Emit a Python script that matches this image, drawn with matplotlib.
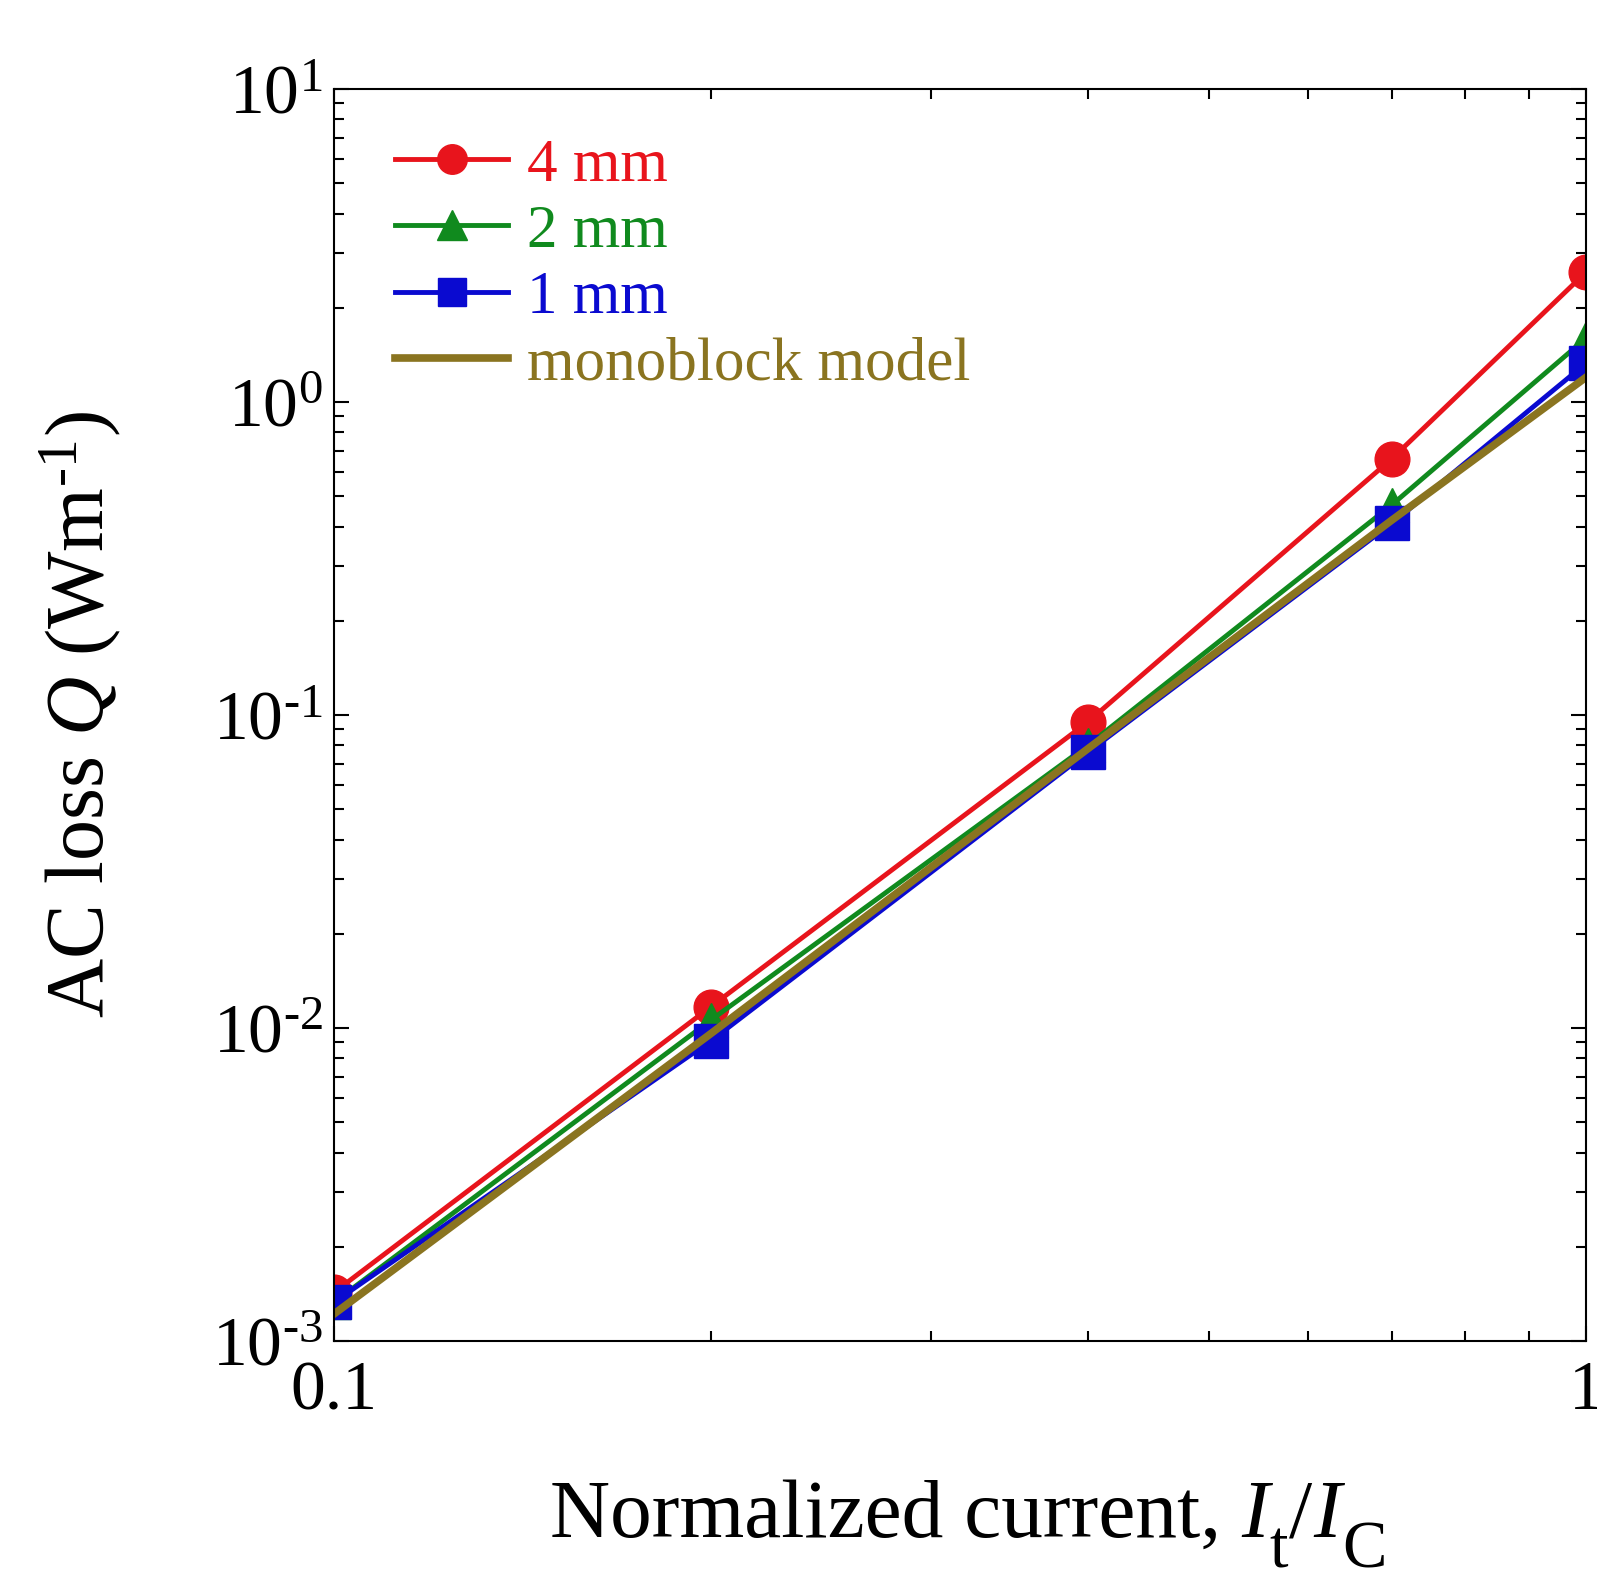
import math
import matplotlib
matplotlib.use("Agg")
import matplotlib.pyplot as plt
from matplotlib.ticker import FixedLocator, NullFormatter, FuncFormatter, LogLocator

plt.rcParams['font.family'] = ['Liberation Serif', 'DejaVu Serif']
plt.rcParams['mathtext.fontset'] = 'custom'
plt.rcParams['mathtext.rm'] = 'Liberation Serif'
plt.rcParams['mathtext.it'] = 'Liberation Serif:italic'

# normalized current I_t / I_C
current = [0.1, 0.2, 0.4, 0.7, 1.0]
# AC loss Q (W/m)
q_4mm = [1.43e-3, 1.17e-2, 0.095, 0.66, 2.6]
q_2mm = [1.33e-3, 1.06e-2, 0.080, 0.47, 1.6]
q_1mm = [1.33e-3, 9.1e-3, 0.076, 0.41, 1.33]
q_mono = [1.22e-3, 9.6e-3, 0.078, 0.42, 1.2]

red = '#e8141c'
green = '#108a1e'
blue = '#0a0ad0'
olive = '#8a7420'

W, H = 1597, 1585
HY = '\u2010'  # plain hyphen in exponents, like the original


def main():
    fig = plt.figure(figsize=(W / 100, H / 100), dpi=100)
    ax = fig.add_axes([0.2091, 0.1539, 0.784, 0.7899])

    ax.plot(current, q_mono, '-', color=olive, lw=5.5, label='monoblock model', zorder=2.5)
    ax.plot(current, q_4mm, '-o', color=red, lw=3.5, ms=25, label='4 mm', zorder=2)
    ax.plot(current, q_2mm, '-^', color=green, lw=3.5, ms=25, label='2 mm', zorder=2.2)
    ax.plot(current, q_1mm, '-s', color=blue, lw=3.5, ms=24, label='1 mm', zorder=2.4)

    ax.set_xscale('log')
    ax.set_yscale('log')
    ax.set_xlim(0.1, 1)
    ax.set_ylim(1e-3, 10)

    ax.xaxis.set_major_locator(FixedLocator([0.1, 1]))
    ax.xaxis.set_major_formatter(FuncFormatter(lambda v, p: '0.1' if v < 0.5 else '1'))
    ax.xaxis.set_minor_locator(FixedLocator([0.2, 0.3, 0.4, 0.5, 0.6, 0.7, 0.8, 0.9]))
    ax.xaxis.set_minor_formatter(NullFormatter())

    def ylab(v, p):
        e = round(math.log10(v))
        s = str(e).replace('-', HY)
        return r'$10^{%s}$' % s

    ax.yaxis.set_major_locator(LogLocator(base=10, numticks=10))
    ax.yaxis.set_major_formatter(FuncFormatter(ylab))
    ax.yaxis.set_minor_locator(LogLocator(base=10, subs=range(2, 10), numticks=20))
    ax.yaxis.set_minor_formatter(NullFormatter())

    ax.tick_params(which='both', direction='in', top=True, right=True, width=1.5)
    ax.tick_params(which='major', length=11, labelsize=50)
    ax.tick_params(which='minor', length=7)
    ax.tick_params(axis='x', which='major', pad=14)
    ax.tick_params(axis='y', which='major', pad=8)
    for s in ax.spines.values():
        s.set_linewidth(1.5)

    ax.set_ylabel('AC loss $Q$ (Wm$^{%s1}$)' % HY, fontsize=59)
    ax.yaxis.set_label_coords(-0.168, 0.5)

    # x label built piece by piece: the subscripts sit low and large
    renderer = fig.canvas.get_renderer()

    def put(s, x, y, **kw):
        t = fig.text(x / W, y / H, s, ha='left', va='baseline', **kw)
        return t.get_window_extent(renderer).x1

    base = 48
    drop = 31
    x = put('Normalized current,', 550, base, fontsize=60)
    x = put('I', x + 20, base, fontsize=60, style='italic')
    xt = put('t', x + 1, base - drop, fontsize=48)
    x = put('/', xt + 1, base, fontsize=60)
    x = put('I', x + 1, base, fontsize=60, style='italic')
    put('C', x + 1, base - drop, fontsize=48)

    handles, labels = ax.get_legend_handles_labels()
    order = [1, 2, 3, 0]
    ax.legend([handles[i] for i in order], [labels[i] for i in order],
              loc='upper left', frameon=False, fontsize=44,
              handlelength=1.85, handletextpad=0.3, labelspacing=0.17,
              borderaxespad=0, borderpad=0, bbox_to_anchor=(0.049, 0.961),
              markerscale=0.85, labelcolor='linecolor')

    fig.savefig('out.png', dpi=100)


if __name__ == "__main__":
    main()
